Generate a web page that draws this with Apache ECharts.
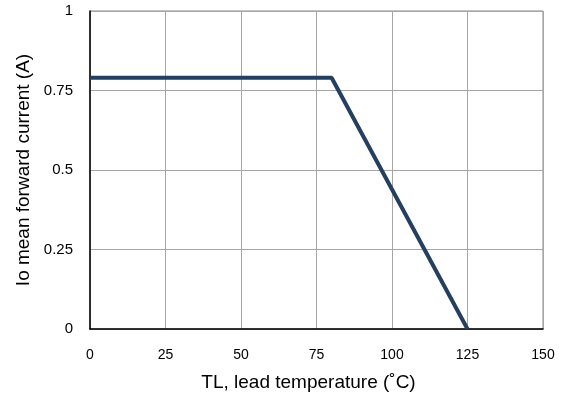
<!DOCTYPE html>
<html><head><meta charset="utf-8">
<script src="https://cdn.jsdelivr.net/npm/echarts@6/dist/echarts.min.js"></script>
<style>html,body{margin:0;padding:0;background:#fff}#c{width:561px;height:400px}</style>
</head><body><div id="c"></div>
<script>
const temperatureC = [0, 80, 125];
const currentA = [0.79, 0.79, 0];
const xTicks = [0, 25, 50, 75, 100, 125, 150];
const yTicks = [0, 0.25, 0.5, 0.75, 1];

const chart = echarts.init(document.getElementById('c'));
const font = 'Liberation Sans, Arial, sans-serif';
chart.setOption({
  animation: false,
  grid: {left: 90, right: 18, top: 11, bottom: 71, show: true, borderColor: '#888', borderWidth: 1},
  xAxis: {
    type: 'value', min: 0, max: 150, interval: 25,
    name: 'TL, lead temperature (˚C)', nameLocation: 'middle', nameGap: 44,
    nameTextStyle: {fontFamily: font, fontSize: 19, color: '#000', padding: [0, 16, 0, 0]},
    axisLine: {show: true, onZero: false, lineStyle: {color: '#000', width: 1.5}},
    axisTick: {show: false},
    axisLabel: {fontFamily: font, fontSize: 14, color: '#000', margin: 19,
      formatter: v => xTicks.includes(v) ? String(v) : ''},
    splitLine: {show: true, lineStyle: {color: '#a6a6a6', width: 1}}
  },
  yAxis: {
    type: 'value', min: 0, max: 1, interval: 0.25,
    name: 'Io mean forward current (A)', nameLocation: 'middle', nameGap: 57,
    nameTextStyle: {fontFamily: font, fontSize: 19, color: '#000'},
    axisLine: {show: true, onZero: false, lineStyle: {color: '#000', width: 1.5}},
    axisTick: {show: false},
    axisLabel: {fontFamily: font, fontSize: 15, color: '#000', margin: 17,
      formatter: v => yTicks.includes(v) ? String(v) : ''},
    splitLine: {show: true, lineStyle: {color: '#a6a6a6', width: 1}}
  },
  series: [{
    type: 'line',
    data: temperatureC.map((t, i) => [t, currentA[i]]),
    symbol: 'none',
    lineStyle: {color: '#243f60', width: 4}
  }]
});
</script></body></html>
